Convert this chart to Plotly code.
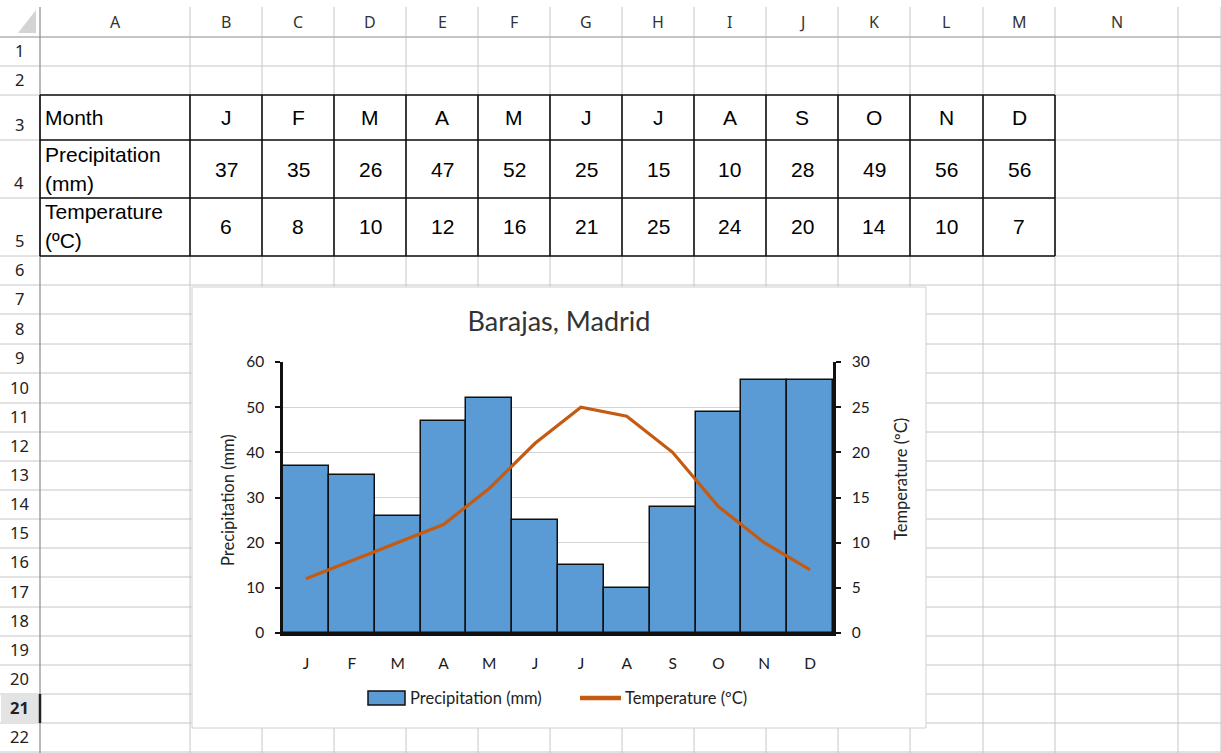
import plotly.graph_objects as go

# Climate data for Barajas (Madrid)
months = ["J", "F", "M", "A", "M", "J", "J", "A", "S", "O", "N", "D"]
precip_mm = [37, 35, 26, 47, 52, 25, 15, 10, 28, 49, 56, 56]
temp_c = [6, 8, 10, 12, 16, 21, 25, 24, 20, 14, 10, 7]

# Worksheet labels
col_letters = ["A", "B", "C", "D", "E", "F", "G", "H", "I", "J", "K", "L", "M", "N"]
row_labels = [str(i) for i in range(1, 23)]
table_headers = [["Month"], ["Precipitation", "(mm)"], ["Temperature", "(ºC)"]]
series_names = ["Precipitation (mm)", "Temperature (ºC)"]

W, H = 1221, 753

# Worksheet geometry in pixels
col_edges = [40, 190, 262, 334, 406, 478, 550, 622, 694, 766, 838, 910, 983, 1055, 1178, 1221]
row_edges = [37, 66, 95, 140, 198, 256, 285, 314, 344, 373, 403, 432, 461, 490,
             519, 548, 577, 607, 636, 665, 694, 723, 752]
chart_box = (192, 287, 926, 728)
plot_box = (283, 362, 833, 633)

BAR_COLOR = "#5B9BD5"
LINE_COLOR = "#C55A11"


def fx(x):
    return x / W


def fy(y):
    return 1 - y / H


def line(x0, y0, x1, y1, color, width, layer="below"):
    return dict(type="line", xref="paper", yref="paper",
                x0=fx(x0), y0=fy(y0), x1=fx(x1), y1=fy(y1),
                line=dict(color=color, width=width), layer=layer)


def rect(x0, y0, x1, y1, fill, color, width, layer="below"):
    return dict(type="rect", xref="paper", yref="paper",
                x0=fx(x0), y0=fy(y0), x1=fx(x1), y1=fy(y1),
                fillcolor=fill, line=dict(color=color, width=width), layer=layer)


def text(x, y, s, size, color="#222", family="Liberation Sans", xanchor="center",
         yanchor="middle", angle=0, bold=False):
    if bold:
        s = "<b>" + s + "</b>"
    return dict(xref="paper", yref="paper", x=fx(x), y=fy(y), text=s, showarrow=False,
                xanchor=xanchor, yanchor=yanchor, textangle=angle,
                font=dict(size=size, color=color, family=family))


shapes = []
annotations = []

grid_c = "#c6c6c6"
# cell gridlines
for ye in row_edges:
    shapes.append(line(0, ye, W, ye, grid_c, 1))
for xe in col_edges[1:]:
    shapes.append(line(xe, 7, xe, H, grid_c, 1))
# header separators
shapes.append(line(0, 37, W, 37, "#a8a8a8", 1))
shapes.append(line(40, 7, 40, H, "#8a8a8a", 1.2))

# select-all triangle in the corner
shapes.append(dict(type="path", xref="paper", yref="paper",
                   path="M {} {} L {} {} L {} {} Z".format(fx(36), fy(10), fx(36), fy(33), fx(18), fy(33)),
                   fillcolor="#d4d4d4", line=dict(width=0), layer="below"))

# highlighted row header (active row 21)
shapes.append(rect(1, row_edges[20] + 1, 39, row_edges[21] - 1, "#e3e3e3", "#e3e3e3", 0))
shapes.append(line(40, row_edges[20], 40, row_edges[21], "#202020", 2.5))

# column letters
for i, c in enumerate(col_letters):
    annotations.append(text((col_edges[i] + col_edges[i + 1]) / 2, 22, c, 16,
                            color="#333", family="Noto Sans"))
# row numbers
for i, r in enumerate(row_labels):
    annotations.append(text(19, row_edges[i + 1] - 2, r, 16.5, color="#222",
                            family="Noto Sans", yanchor="bottom", bold=(r == "21")))

# data table borders
t_top, t_bot = row_edges[2], row_edges[5]
t_left, t_right = col_edges[0], col_edges[13]
for ye in row_edges[2:6]:
    shapes.append(line(t_left, ye, t_right, ye, "#111", 1.6))
for xe in col_edges[0:14]:
    shapes.append(line(xe, t_top, xe, t_bot, "#111", 1.6))

# table content
rows_vals = [months, precip_mm, temp_c]
for r, vals in enumerate(rows_vals):
    y0, y1 = row_edges[2 + r], row_edges[3 + r]
    yc = (y0 + y1) / 2
    hdr = table_headers[r]
    if len(hdr) == 1:
        annotations.append(text(43, yc, hdr[0], 21, color="#000", xanchor="left"))
    else:
        annotations.append(text(43, y0 + 14, hdr[0], 21, color="#000", xanchor="left"))
        annotations.append(text(43, y1 - 15, hdr[1], 21, color="#000", xanchor="left"))
    for j, v in enumerate(vals):
        annotations.append(text((col_edges[1 + j] + col_edges[2 + j]) / 2, yc,
                                str(v), 21, color="#000"))

# chart area
shapes.append(rect(*chart_box, "white", "#d0d0d0", 1))

chart_font = "Lato"
annotations.append(text(228, 500, series_names[0], 16.5, color="#222",
                        family=chart_font, angle=-90))
annotations.append(text(901, 479, series_names[1], 16.5, color="#222",
                        family=chart_font, angle=-90))

# legend drawn as chart-box elements
shapes.append(rect(368, 691, 405, 705, BAR_COLOR, "#111", 1.5, layer="above"))
annotations.append(text(408, 698, series_names[0], 16.5, color="#222",
                        family=chart_font, xanchor="left"))
shapes.append(line(580, 698, 621, 698, LINE_COLOR, 4.5, layer="above"))
annotations.append(text(623, 698, series_names[1], 16.5, color="#222",
                        family=chart_font, xanchor="left"))

x_idx = list(range(len(months)))

fig = go.Figure()
fig.add_trace(go.Bar(
    x=x_idx, y=precip_mm, name=series_names[0], width=1,
    marker=dict(color=BAR_COLOR, line=dict(color="#111", width=1.5)),
))
fig.add_trace(go.Scatter(
    x=x_idx, y=temp_c, name=series_names[1], yaxis="y2", mode="lines",
    line=dict(color=LINE_COLOR, width=3.2),
))

x0, y0, x1, y1 = plot_box
tickfont = dict(family=chart_font, size=15.5, color="#1a1a1a")
fig.update_layout(
    width=W, height=H,
    margin=dict(l=0, r=0, t=0, b=0, autoexpand=False),
    paper_bgcolor="white", plot_bgcolor="white",
    bargap=0,
    shapes=shapes, annotations=annotations,
    showlegend=False,
    title=dict(text="Barajas, Madrid", x=fx(559), y=fy(322), xanchor="center",
               yanchor="middle", automargin=False,
               font=dict(family=chart_font, size=27, color="#333")),
    xaxis=dict(domain=[fx(x0), fx(x1)], range=[-0.5, len(months) - 0.5],
               tickmode="array", tickvals=x_idx, ticktext=months,
               showline=True, linecolor="#111", linewidth=3, ticks="",
               showgrid=False, zeroline=False, tickfont=tickfont,
               ticklabelstandoff=14, automargin=False),
    yaxis=dict(domain=[fy(y1), fy(y0)], range=[0, 60], dtick=10,
               showline=True, linecolor="#111", linewidth=2.5,
               ticks="outside", ticklen=5, tickwidth=2, tickcolor="#111",
               gridcolor="#d4d4d4", gridwidth=1, zeroline=False,
               tickfont=tickfont, ticklabelstandoff=8, automargin=False),
    yaxis2=dict(overlaying="y", side="right", range=[0, 30], dtick=5,
                showline=True, linecolor="#111", linewidth=2.5,
                ticks="outside", ticklen=5, tickwidth=2, tickcolor="#111",
                showgrid=False, zeroline=False, tickfont=tickfont,
                ticklabelstandoff=8, automargin=False),
)

fig.write_html("out.html")
